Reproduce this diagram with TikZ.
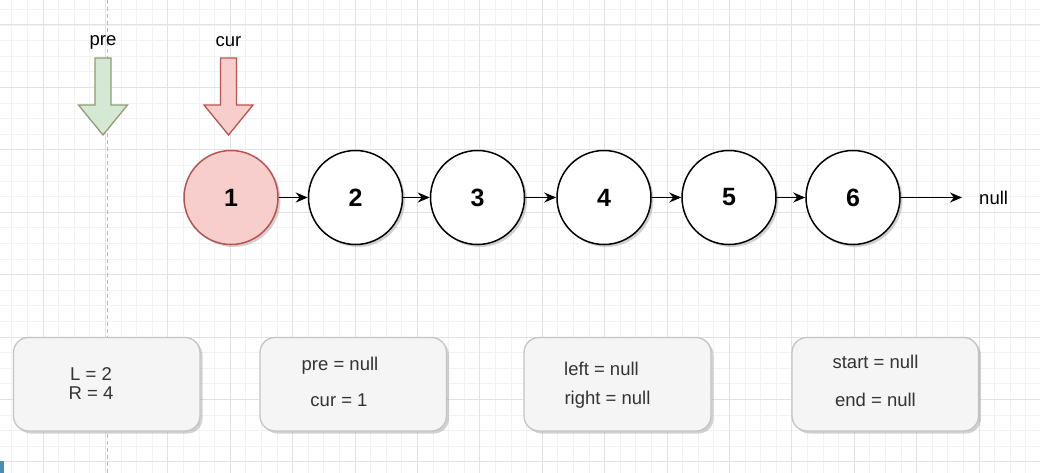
\documentclass[tikz,border=0pt]{standalone}
\usepackage{fontspec}
\setmainfont{Liberation Sans}
\usetikzlibrary{shadows,arrows.meta}
\definecolor{gridminor}{HTML}{F2F2F2}
\definecolor{gridmajor}{HTML}{E2E2E2}
\definecolor{redfill}{HTML}{F8CECC}
\definecolor{redline}{HTML}{B85450}
\definecolor{greenfill}{HTML}{D5E8D4}
\definecolor{greenline}{HTML}{8F9C74}
\definecolor{boxfill}{HTML}{F5F5F5}
\definecolor{boxline}{HTML}{C4C4C4}
\definecolor{txt}{HTML}{333333}
\definecolor{corner}{HTML}{4A8DB5}
\tikzset{
  myshadow/.style={drop shadow={shadow xshift=2.5pt,shadow yshift=-2.5pt,opacity=0.35,fill=gray}},
  listnode/.style={circle,draw=black,line width=1.5pt,fill=white,minimum size=94pt,inner sep=0pt,
     font=\fontsize{25}{30}\selectfont\bfseries,myshadow},
  link/.style={line width=1.5pt,-{Stealth[length=12pt,width=10pt]}},
  statebox/.style={draw=boxline,line width=1.3pt,fill=boxfill,rounded corners=15pt,myshadow},
  boxtext/.style={text=txt,font=\fontsize{18.5}{22}\selectfont,inner sep=0pt},
  lbl/.style={text=black,font=\fontsize{18.5}{22}\selectfont,inner sep=0pt},
}
\begin{document}
\begin{tikzpicture}[x=1pt,y=-1pt]
\useasboundingbox (0,0) rectangle (1040,473);
\fill[white] (0,0) rectangle (1040,473);
% grid
\foreach \i in {0,...,70} {
  \draw[gridminor,line width=0.8pt] (-19.4+15.6*\i,0) -- (-19.4+15.6*\i,473);
}
\foreach \i in {0,...,31} {
  \draw[gridminor,line width=0.8pt] (0,25-15.6*2+15.6*\i) -- (1040,25-15.6*2+15.6*\i);
}
\foreach \i in {0,...,17} {
  \draw[gridmajor,line width=1pt] (-19.4+62.4*\i,0) -- (-19.4+62.4*\i,473);
}
\foreach \i in {0,...,7} {
  \draw[gridmajor,line width=1pt] (0,25+62.4*\i) -- (1040,25+62.4*\i);
}
% dashed guide
\draw[gray!55,line width=1pt,dash pattern=on 4pt off 3pt] (107,0) -- (107,473);
% corner mark
\fill[corner] (0,461) rectangle (4,473);
% pointer arrows
\node[lbl] (prelbl) at (103,42) {pre};
\node[lbl] (curlbl) at (228.5,42) {cur};
\draw[greenline,fill=greenfill,line width=1.3pt,line join=miter]
  (95,58) -- (111,58) -- (111,105) -- (127.5,105) -- (103,135) -- (78.5,105) -- (95,105) -- cycle;
\draw[redline,fill=redfill,line width=1.3pt,line join=miter]
  (220.5,58) -- (236.5,58) -- (236.5,105) -- (253,105) -- (228.5,135) -- (204,105) -- (220.5,105) -- cycle;
% list nodes
\node[listnode,fill=redfill,draw=redline] (n1) at (231,197.5) {1};
\node[listnode] (n2) at (355.5,197.5) {2};
\node[listnode] (n3) at (477.5,197.5) {3};
\node[listnode] (n4) at (604,197.5) {4};
\node[listnode] (n5) at (729,197.5) {5};
\node[listnode] (n6) at (853,197.5) {6};
\node[lbl,anchor=west] (null) at (979,197.5) {null};
\coordinate (nullend) at (962,197.5);
\draw[link] (n1) -- (n2);
\draw[link] (n2) -- (n3);
\draw[link] (n3) -- (n4);
\draw[link] (n4) -- (n5);
\draw[link] (n5) -- (n6);
\draw[link] (n6) -- (nullend);
% state boxes
\draw[statebox] (13.5,337.5) rectangle (200,431);
\draw[statebox] (260,337.5) rectangle (446.5,431);
\draw[statebox] (524,337.5) rectangle (711,431);
\draw[statebox] (792,337.5) rectangle (978.5,431);
\node[boxtext] (t1a) at (91,374) {L = 2};
\node[boxtext] (t1b) at (91,393.5) {R = 4};
\node[boxtext] (t2a) at (340,365.5) {pre = null};
\node[boxtext] (t2b) at (339,400) {cur = 1};
\node[boxtext] (t3a) at (601.5,369) {left = null};
\node[boxtext] (t3b) at (607.5,400) {right = null};
\node[boxtext] (t4a) at (875.5,361.5) {start = null};
\node[boxtext] (t4b) at (875.5,400) {end = null};
\end{tikzpicture}
\end{document}
